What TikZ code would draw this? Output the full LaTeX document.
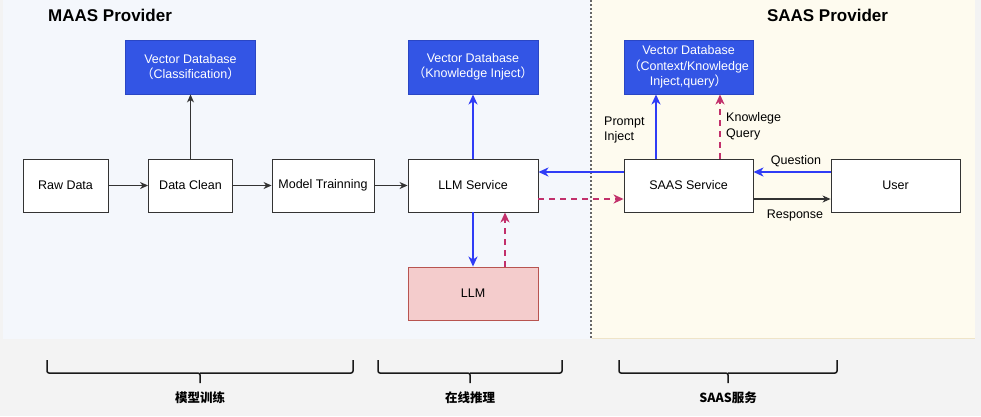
\documentclass[tikz,border=0pt]{standalone}
\usepackage{fontspec}
\setmainfont{Liberation Sans}
\newfontfamily\cjk{Noto Sans CJK SC}
\usetikzlibrary{arrows.meta}
\definecolor{bggray}{HTML}{F3F3F3}
\definecolor{maasbg}{HTML}{F4F7FC}
\definecolor{saasbg}{HTML}{FEFBEF}
\definecolor{saasedge}{HTML}{EFE4C8}
\definecolor{dbblue}{HTML}{3355E5}
\definecolor{dbedge}{HTML}{2A46C4}
\definecolor{flowblue}{HTML}{2F3CF6}
\definecolor{crimson}{HTML}{C2306B}
\definecolor{llmfill}{HTML}{F4CCCC}
\definecolor{llmedge}{HTML}{B85450}
\newcommand{\fp}[1]{{\cjk #1}}
\begin{document}
\begin{tikzpicture}[x=1pt,y=-1pt,
  txt/.style={font=\fontsize{12.5}{15.5}\selectfont},
  box/.style={txt, draw=black!80, fill=white, line width=0.9pt, minimum height=53pt, inner sep=0pt, align=center},
  dbbox/.style={box, draw=dbedge, fill=dbblue, text=white, minimum height=54pt},
  llmbox/.style={box, draw=llmedge, fill=llmfill},
  blk/.style={draw=black!80, line width=1.1pt, -{Stealth[length=8pt,width=7pt,inset=2.5pt]}},
  blu/.style={draw=flowblue, line width=2pt, -{Stealth[length=10pt,width=9pt,inset=3pt]}},
  crm/.style={draw=crimson, line width=2pt, dash pattern=on 6pt off 5pt, -{Stealth[length=10pt,width=9pt,inset=3pt]}},
  lbl/.style={txt, inner sep=0pt, align=left},
  title/.style={font=\fontsize{17}{20}\selectfont\bfseries, inner sep=0pt},
  bracelbl/.style={font=\cjk\fontsize{12.5}{15}\selectfont\bfseries, inner sep=0pt},
  bracepath/.style={draw=black!90, line width=1.5pt, rounded corners=2pt}
]
\useasboundingbox (0,0) rectangle (981,416);
\fill[bggray] (0,0) rectangle (981,416);
\fill[maasbg] (3,0) rectangle (591,339);
\fill[saasbg] (591,0) rectangle (975,338);
\draw[saasedge, line width=1pt] (592,338.5) -- (975,338.5);
\draw[black!60, line width=1.3pt, dash pattern=on 2pt off 2pt] (591,0) -- (591,339);

\node[title, anchor=west] (maastitle) at (48,15) {MAAS Provider};
\node[title] (saastitle) at (827.5,15) {SAAS Provider};

\node[box, minimum width=85pt] (raw) at (65.5,185.5) {Raw Data};
\node[box, minimum width=84pt] (clean) at (190.5,185.5) {Data Clean};
\node[box, minimum width=102pt] (train) at (323,185.5) {Model Trainning};
\node[box, minimum width=130pt] (llms) at (473,185.5) {LLM Service};
\node[llmbox, minimum width=130pt] (llm) at (473,293.5) {LLM};
\node[dbbox, minimum width=130pt] (vdb1) at (190.5,67) {Vector Database\\\fp{（}Classification\fp{）}};
\node[dbbox, minimum width=130pt] (vdb2) at (473,67) {Vector Database\\\fp{（}Knowledge Inject\fp{）}};
\node[dbbox, minimum width=129pt] (vdb3) at (688.5,67) {\raisebox{0pt}[\height][\depth]{}Vector Database\\\fp{（}Context/Knowledge\\Inject,query\fp{）}};
\node[box, minimum width=129pt] (saas) at (688.5,185.5) {SAAS Service};
\node[box, minimum width=129pt] (user) at (895.5,185.5) {User};

\draw[blk] (raw) -- (clean);
\draw[blk] (clean) -- (train);
\draw[blk] (train) -- (llms);
\draw[blk] (clean) -- (vdb1);
\draw[blu] (llms) -- (vdb2);
\draw[blu] (llms) -- (llm);
\draw[crm] ([xshift=32pt]llm.north) -- ([xshift=32pt]llms.south);
\draw[blu] ([yshift=13.5pt]saas.west) -- ([yshift=13.5pt]llms.east);
\draw[crm] ([yshift=-13.5pt]llms.east) -- ([yshift=-13.5pt]saas.west);
\draw[blu] ([xshift=-32.5pt]saas.north) -- ([xshift=-32.5pt]vdb3.south);
\draw[crm] ([xshift=31.5pt]saas.north) -- ([xshift=31.5pt]vdb3.south);
\draw[blu] ([yshift=13.5pt]user.west) -- ([yshift=13.5pt]saas.east);
\draw[blk] ([yshift=-13.5pt]saas.east) -- ([yshift=-13.5pt]user.west);

\node[lbl, anchor=west] (lprompt) at (604,130) {Prompt\\Inject};
\node[lbl, anchor=west] (lknow) at (726,126.5) {Knowlege\\Query};
\node[txt, inner sep=0pt] (lquest) at (796,161.5) {Question};
\node[txt, inner sep=0pt] (lresp) at (795,215.5) {Response};

\draw[bracepath] (47,360) |- (200,373) -- (200,383);
\draw[bracepath] (200,373) -| (353,360);
\draw[bracepath] (378,360) |- (470,373) -- (470,383);
\draw[bracepath] (470,373) -| (562,360);
\draw[bracepath] (619,360) |- (728,373) -- (728,383);
\draw[bracepath] (728,373) -| (837,360);

\node[bracelbl] (b1) at (200,398) {模型训练};
\node[bracelbl] (b2) at (470,398) {在线推理};
\node[bracelbl] (b3) at (728,398) {SAAS服务};
\end{tikzpicture}
\end{document}
